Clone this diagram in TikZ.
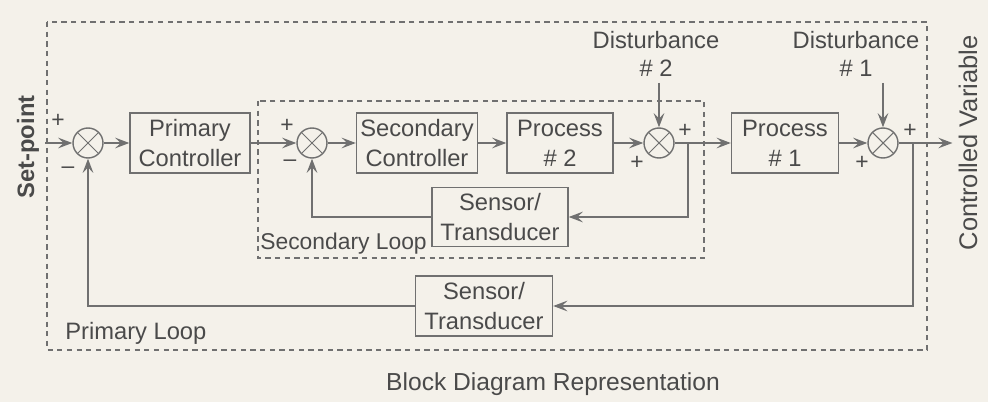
\documentclass[tikz,border=0pt]{standalone}
\usepackage{fontspec}
\setmainfont{Liberation Sans}
\usepackage{xcolor}
\usetikzlibrary{arrows.meta,calc}
\definecolor{paper}{RGB}{244,241,234}
\definecolor{ink}{RGB}{112,112,112}
\definecolor{txt}{RGB}{74,74,74}

\begin{document}
\begin{tikzpicture}[
  x=0.02cm, y=-0.02cm, >={Stealth[length=8pt,width=6pt,inset=3pt]},
  block/.style={draw=ink, line width=0.8pt, text=txt, minimum height=1.2cm, inner sep=0pt, align=center, font=\fontsize{13.5}{17}\selectfont},
  sum/.style={draw=ink, line width=0.8pt, circle, minimum size=0.6cm, inner sep=0pt,
    path picture={\draw[ink, line width=0.6pt]
      ($(path picture bounding box.center)+(45:0.3cm)$) -- ($(path picture bounding box.center)+(225:0.3cm)$)
      ($(path picture bounding box.center)+(135:0.3cm)$) -- ($(path picture bounding box.center)+(315:0.3cm)$);}},
  sign/.style={text=txt, inner sep=0pt, font=\fontsize{13}{13}\selectfont},
  lbl/.style={text=txt, align=center, font=\fontsize{13.5}{16}\selectfont},
  dashbox/.style={draw=ink, line width=0.7pt, dash pattern=on 3pt off 2.5pt},
  arrow/.style={->, line width=0.8pt, ink}
]

\fill[paper] (0,0) rectangle (988,402);
\useasboundingbox (0,0) rectangle (988,402);

\draw[dashbox] (47,22) rectangle (927,350);
\draw[dashbox] (258,101) rectangle (704,258);

\node[lbl, rotate=90, font=\fontsize{13.5}{16}\selectfont\bfseries] (sp) at (28,147) {Set-point};
\node[sum] (s1) at (88,143) {};
\node[block, minimum width=2.4cm] (pc) at (190,143) {Primary\\Controller};
\node[sum] (s2) at (312,143) {};
\node[block, minimum width=2.42cm] (sc) at (417,143) {Secondary\\Controller};
\node[block, minimum width=2.12cm] (p2) at (560,143) {Process\\\# 2};
\node[sum] (s3) at (659,143) {};
\node[block, minimum width=2.14cm] (p1) at (785,143) {Process\\\# 1};
\node[sum] (s4) at (883,143) {};
\node[lbl, rotate=90, font=\fontsize{14.5}{16}\selectfont] (cv) at (968,143) {Controlled Variable};
\node[block, minimum width=2.72cm, minimum height=1.18cm] (ss) at (500,217) {Sensor/\\Transducer};
\node[block, minimum width=2.74cm] (ps) at (484,306) {Sensor/\\Transducer};
\node[lbl] (d2) at (656,54) {Disturbance\\\# 2};
\node[lbl] (d1) at (856,54) {Disturbance\\\# 1};

\node[lbl, anchor=west, inner sep=0pt, font=\fontsize{13}{16}\selectfont] (sl) at (260,244) {Secondary Loop};
\node[lbl, anchor=west, inner sep=0pt] (pl) at (65,333) {Primary Loop};
\node[lbl, font=\fontsize{14}{17}\selectfont] (title) at (553,384) {Block Diagram Representation};

\node[sign] (s1a) at (58,121) {+};
\node[sign] (s1b) at (68,170) {--};
\node[sign] (s2a) at (287,126) {+};
\node[sign] (s2b) at (290,163) {--};
\node[sign] (s3a) at (685,131) {+};
\node[sign] (s3b) at (637,163) {+};
\node[sign] (s4a) at (910,131) {+};
\node[sign] (s4b) at (862,163) {+};

\coordinate (b2) at (688,143);
\coordinate (b1) at (913,143);

\draw[arrow] (sp.south |- s1) -- (s1);
\draw[arrow] (s1) -- (pc);
\draw[arrow] (pc) -- (s2);
\draw[arrow] (s2) -- (sc);
\draw[arrow] (sc) -- (p2);
\draw[arrow] (p2) -- (s3);
\draw[arrow] (s3) -- (p1);
\draw[arrow] (p1) -- (s4);
\draw[arrow] (s4) -- (cv.north |- s4);
\draw[arrow] (d2.south -| s3) -- (s3);
\draw[arrow] (d1.south -| s4) -- (s4);
\draw[arrow] (b2) |- (ss.east);
\draw[arrow] (ss.west) -| (s2.south);
\draw[arrow] (b1) |- (ps.east);
\draw[arrow] (ps.west) -| (s1.south);

\end{tikzpicture}
\end{document}
